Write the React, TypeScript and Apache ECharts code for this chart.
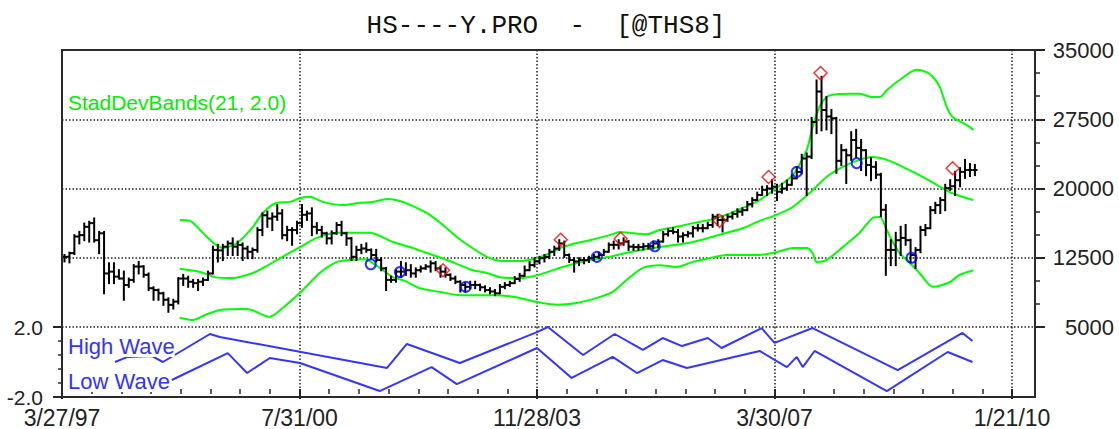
import React, { useEffect, useRef } from 'react';
import * as echarts from 'echarts';

// ---------- data ----------
const titleText = 'HS----Y.PRO  -  [@THS8]';
const xTickLabels = ['3/27/97', '7/31/00', '11/28/03', '3/30/07', '1/21/10'];
const priceTicks = [5000, 12500, 20000, 27500, 35000];

// [open, high, low, close] per bar
const ohlc: number[][] = [
  [12600, 12800, 12100, 12600], [12600, 13050, 12000, 13000], [13000, 14950, 12900, 14800], [14800, 15300, 14050, 14950],
  [14950, 16200, 14400, 15850], [15850, 16400, 14250, 16250], [16250, 16750, 14250, 14400], [14400, 15300, 13000, 15150],
  [15150, 15300, 8650, 10800], [10800, 11900, 9750, 11000], [11000, 11900, 9750, 10450], [10450, 11150, 10250, 10250],
  [10250, 11000, 7950, 9550], [9550, 10250, 9350, 10100], [10100, 11700, 9900, 11550], [11550, 12050, 10800, 11550],
  [11550, 11600, 10450, 10650], [10650, 10800, 9000, 9200], [9200, 9300, 7950, 9000], [9000, 9050, 7950, 8650],
  [8650, 8700, 7400, 7950], [7950, 8100, 6650, 7400], [7400, 7950, 7000, 7750], [7750, 10300, 7550, 10250],
  [10250, 10650, 9550, 10250], [10250, 10450, 9350, 9900], [9900, 10100, 9350, 9750], [9750, 10100, 9000, 9900],
  [9900, 10250, 9550, 10100], [10100, 11000, 10100, 10800], [10800, 13700, 10800, 13350], [13350, 13900, 12100, 13300],
  [13300, 13900, 12250, 13700], [13700, 14250, 12800, 14050], [14050, 14600, 12800, 13700], [13700, 14250, 12800, 13900],
  [13900, 14050, 12250, 13500], [13500, 13700, 12450, 13150], [13150, 13500, 12450, 13350], [13350, 15700, 13150, 15500],
  [15500, 17300, 14950, 17100], [17100, 17500, 15850, 16750], [16750, 17300, 15500, 16950], [16950, 18200, 16600, 17300],
  [17300, 17650, 14600, 14950], [14950, 15850, 14400, 15500], [15500, 15700, 13900, 15500], [15500, 16400, 15150, 16250],
  [16250, 18200, 15850, 17150], [17150, 17500, 16600, 17300], [17300, 17850, 14950, 15850], [15850, 16250, 15150, 15500],
  [15500, 15850, 14800, 15150], [15150, 15200, 14050, 14600], [14600, 15350, 14050, 15150], [15150, 16250, 15100, 16050],
  [16050, 16400, 14950, 15150], [15150, 15200, 13900, 14600], [14600, 14650, 12250, 12600], [12600, 13700, 12250, 13350],
  [13350, 13900, 13000, 13500], [13500, 14050, 13150, 13350], [13350, 13400, 12450, 12800], [12800, 13350, 12100, 12250],
  [12250, 12450, 11150, 11350], [11350, 11400, 9000, 10100], [10100, 10450, 9900, 10100], [10100, 11150, 9900, 11000],
  [11000, 12050, 10450, 11000], [11000, 11900, 10650, 11150], [11150, 11700, 10450, 10800], [10800, 11350, 10450, 11150],
  [11150, 11550, 11000, 11350], [11350, 11700, 11300, 11550], [11550, 12100, 11000, 11900], [11900, 12050, 11150, 11350],
  [11350, 11550, 10450, 11000], [11000, 11350, 10450, 10650], [10650, 10700, 10100, 10250], [10250, 10450, 9750, 9900],
  [9900, 9950, 8850, 9550], [9550, 9750, 8850, 9350], [9350, 9900, 9200, 9550], [9550, 9900, 9200, 9550],
  [9550, 9600, 9000, 9300], [9300, 9400, 8850, 9000], [9000, 9200, 8650, 8850], [8850, 9000, 8450, 8650],
  [8650, 9550, 8650, 9350], [9350, 9750, 9200, 9550], [9550, 9900, 9450, 9750], [9750, 10400, 9750, 10200],
  [10200, 10750, 10000, 10550], [10550, 11550, 10550, 11150], [11150, 12050, 11150, 11700], [11700, 12450, 11550, 12100],
  [12100, 12600, 11900, 12450], [12450, 12800, 12100, 12600], [12600, 13350, 12450, 13150], [13150, 13700, 12800, 13500],
  [13500, 14400, 13350, 14050], [14050, 14250, 12600, 12800], [12800, 12850, 12050, 12250], [12250, 12450, 11000, 12100],
  [12100, 12450, 11700, 12250], [12250, 12450, 11900, 12250], [12250, 12600, 12050, 12450], [12450, 12800, 12250, 12600],
  [12600, 13050, 12450, 12800], [12800, 13350, 12800, 13150], [13150, 14050, 13150, 13900], [13900, 14250, 13500, 13900],
  [13900, 14400, 13500, 14050], [14050, 14600, 13900, 14250], [14250, 14300, 13350, 13700], [13700, 13900, 13350, 13650],
  [13650, 13900, 13350, 13650], [13650, 14000, 13400, 13750], [13750, 14000, 13500, 13750], [13750, 14250, 13500, 14050],
  [14050, 14400, 13650, 14250], [14250, 15300, 14250, 15050], [15050, 15600, 14900, 15400], [15400, 15700, 15150, 15300],
  [15300, 15500, 14250, 14800], [14800, 15150, 14250, 14950], [14950, 15300, 14800, 15150], [15150, 15850, 14800, 15700],
  [15700, 16050, 15450, 15700], [15700, 16050, 15350, 15700], [15700, 16300, 15700, 16050], [16050, 17150, 15850, 16950],
  [16950, 17150, 16050, 16600], [16600, 16950, 15350, 16600], [16600, 17150, 16500, 16950], [16950, 17400, 16750, 17250],
  [17250, 17750, 16950, 17500], [17500, 17850, 17150, 17650], [17650, 18550, 17650, 18300], [18300, 18950, 18050, 18750],
  [18750, 19550, 18750, 19300], [19300, 20200, 19300, 19850], [19850, 20250, 19300, 20000], [20000, 20900, 19550, 20200],
  [20200, 20400, 18750, 19650], [19650, 20500, 19550, 20000], [20000, 20850, 19850, 20400], [20400, 21450, 20400, 21100],
  [21100, 22300, 21100, 21800], [21800, 23650, 21650, 23250], [23250, 23800, 19300, 23450], [23450, 27650, 23300, 27200],
  [27200, 31700, 26000, 30500], [30500, 32100, 26300, 28500], [28500, 29900, 26400, 27800], [27800, 28500, 26000, 27600],
  [27600, 27650, 21700, 23000], [23000, 24700, 22550, 24150], [24150, 24200, 20600, 23600], [23600, 26100, 23100, 25250],
  [25250, 26350, 23400, 24400], [24400, 25250, 22000, 24150], [24150, 24150, 21450, 22550], [22550, 23300, 20900, 22350],
  [22350, 22850, 21150, 21500], [21500, 21600, 17000, 17700], [17700, 18200, 10650, 13350], [13350, 14400, 11700, 13350],
  [13350, 15200, 11700, 14400], [14400, 15850, 12800, 14650], [14650, 16050, 13900, 14400], [14400, 14450, 12050, 12800],
  [12800, 13550, 11400, 13350], [13350, 15850, 13100, 15500], [15500, 16050, 14950, 15700], [15700, 18000, 15700, 17650],
  [17650, 18450, 17350, 18200], [18200, 18950, 17350, 18750], [18750, 20400, 17650, 20050], [20050, 20900, 19850, 20250],
  [20250, 21800, 19300, 20900], [20900, 22200, 20250, 21800], [21800, 23100, 21150, 22000], [22000, 22650, 21350, 22000],
  [22000, 22550, 21450, 22000],
];

// StdDev bands: [bar position, value]
const upperBand: number[][] = [
  [23.8, 16600], [25.9, 16500], [28.9, 14950], [30.9, 14000], [32.5, 13550], [35.4, 14100], [38.6, 15850], [40.6, 17350],
  [43.4, 18450], [46.1, 18550], [48.1, 18950], [50.1, 19100], [52.7, 18550], [56.8, 18200], [60.2, 18450], [62.8, 18550],
  [65.7, 18850], [68.3, 18650], [70.9, 18100], [73.7, 17350], [77.0, 16050], [79.8, 14750], [82.4, 13750], [85.9, 12600],
  [89.1, 12150], [92.5, 12150], [96.0, 12450], [98.6, 13000], [101.2, 13650], [104.0, 14100], [106.7, 14400], [110.7, 14950],
  [112.7, 15300], [114.7, 15200], [118.2, 15050], [120.8, 15500], [124.2, 15850], [127.5, 16250], [130.9, 16600], [134.3, 17150],
  [137.6, 17900], [141.0, 18750], [144.4, 20050], [147.7, 21450], [150.5, 24150], [151.7, 26650], [153.1, 28850], [154.5, 29900],
  [155.8, 30150], [159.2, 30250], [161.2, 30250], [163.8, 29900], [165.3, 29900], [166.7, 30650], [169.3, 31750], [172.7, 32850],
  [174.7, 32600], [176.0, 32100], [177.4, 31000], [178.8, 28850], [180.0, 27750], [182.8, 26900], [184.2, 26350],
];
const middleBand: number[][] = [
  [23.8, 11300], [27.9, 10950], [30.9, 10400], [34.5, 10300], [38.6, 10850], [41.0, 11500], [43.4, 12250], [48.1, 13650],
  [51.5, 14650], [55.6, 15200], [62.2, 15200], [66.9, 14200], [70.9, 13550], [74.9, 12800], [77.8, 12250], [80.4, 11700],
  [83.0, 11150], [85.9, 10850], [88.5, 10400], [92.5, 10300], [96.0, 10600], [101.2, 11500], [106.7, 12250], [110.7, 12600],
  [114.7, 13100], [120.8, 13650], [127.5, 14200], [134.3, 15200], [137.6, 15700], [141.0, 16500], [144.4, 17150], [147.7, 18000],
  [151.1, 19500], [154.5, 21250], [157.8, 22350], [161.2, 23100], [163.8, 23400], [166.7, 23100], [169.9, 22350], [173.3, 21450],
  [176.8, 20400], [179.4, 19600], [182.0, 19100], [184.2, 18750],
];
const lowerBand: number[][] = [
  [23.8, 6000], [26.5, 5750], [28.9, 6300], [31.9, 6850], [37.4, 6950], [42.0, 6100], [44.6, 7050], [48.1, 8700],
  [52.1, 10850], [55.6, 12050], [58.2, 12250], [61.2, 12350], [64.2, 11400], [66.9, 10400], [69.3, 10000], [72.3, 9200],
  [76.4, 8800], [80.4, 8450], [87.1, 8450], [91.5, 8250], [96.0, 7700], [100.0, 7400], [104.0, 7600], [108.1, 8150],
  [111.3, 8800], [114.1, 10100], [117.4, 11400], [120.8, 11700], [124.2, 11500], [127.5, 12050], [130.9, 12450], [134.3, 12800],
  [141.0, 12800], [144.4, 13100], [147.7, 13550], [150.5, 13550], [151.7, 13000], [152.5, 12050], [154.5, 12250], [157.8, 13650],
  [161.2, 15200], [163.8, 16800], [165.3, 16900], [166.7, 15500], [167.9, 14200], [169.3, 13000], [171.3, 11950], [173.3, 10850],
  [176.0, 9350], [179.4, 9850], [181.4, 10650], [184.2, 11150],
];

// wave markers: [bar position, price]
const peakMarks: number[][] = [
  [77.0, 11150], [100.8, 14450], [112.9, 14550], [132.9, 16500], [142.8, 21250], [153.3, 32500], [180.0, 22200],
];
const troughMarks: number[][] = [
  [62.4, 11800], [68.3, 10950], [81.6, 9350], [108.1, 12600], [119.8, 13750], [148.5, 21800], [160.6, 22750], [171.7, 12500],
];

// oscillator panel: [bar position, value]
const highWave: number[][] = [
  [10.7, 0.0], [13.3, 0.29], [18.2, 0.34], [20.4, 0.0], [29.9, 1.6], [31.9, 1.43], [65.7, -0.34], [69.7, 1.03],
  [80.4, -0.06], [96.0, 1.71], [98.2, 2.0], [105.3, 0.4], [111.7, 1.6], [117.4, 0.69], [121.4, 1.37], [125.3, 0.91],
  [130.5, 1.37], [133.3, 0.8], [141.4, 1.94], [144.0, 1.09], [151.7, 1.94], [168.9, -0.46], [182.0, 1.66], [184.0, 1.2],
];
const lowWave: number[][] = [
  [22.2, -1.03], [33.5, 0.51], [37.4, -0.63], [42.0, 0.23], [48.1, -0.06], [64.2, -1.66], [74.7, -0.29], [79.8, -1.26],
  [96.0, 0.8], [103.0, -0.91], [111.3, 0.29], [116.2, -0.63], [121.4, 0.11], [126.3, -0.34], [141.0, 0.63], [146.5, -0.29],
  [148.5, 0.29], [149.7, -0.29], [152.1, 0.63], [166.7, -1.66], [179.0, 0.57], [184.0, 0.0],
];

// ---------- layout ----------
const PLOT_LEFT = 62;
const PLOT_TOP = 50;
const PLOT_W = 973;
const PRICE_H = 277;
const OSC_H = 70;
const UNIT = 4.948; // px per bar
const X_MAX = PLOT_W / UNIT;
const LABEL_STEP = 48;

const SANS = '"Liberation Sans", Arial, sans-serif';
const dotted = { color: '#222', width: 1.5, type: [1.5, 2] as number[] };
const axisInk = '#262626';

export default function App() {
  const ref = useRef<HTMLDivElement>(null);

  useEffect(() => {
    if (!ref.current) return;
    const chart = echarts.init(ref.current, undefined, { renderer: 'svg' });

    const barData = ohlc.map((b, i) => [i + 0.5, b[0], b[1], b[2], b[3]]);

    const hiddenX = (gridIndex: number) => ({
      gridIndex,
      type: 'value',
      min: 0,
      max: X_MAX,
      interval: LABEL_STEP,
      axisLine: { show: false, onZero: false },
      axisTick: { show: false },
      minorTick: { show: false },
      axisLabel: { show: false },
      splitLine: { show: true, lineStyle: dotted },
    });

    const bandSeries = (name: string, data: number[][]) => ({
      name,
      type: 'line',
      xAxisIndex: 0,
      yAxisIndex: 0,
      data,
      smooth: 0.25,
      showSymbol: false,
      symbol: 'none',
      lineStyle: { color: '#00ff00', width: 2 },
      z: 2,
    });

    const option: any = {
      animation: false,
      backgroundColor: '#ffffff',
      grid: [
        { left: PLOT_LEFT, top: PLOT_TOP, width: PLOT_W, height: PRICE_H },
        { left: PLOT_LEFT, top: PLOT_TOP + PRICE_H, width: PLOT_W, height: OSC_H },
        { left: PLOT_LEFT, top: PLOT_TOP + PRICE_H, width: UNIT * 192, height: OSC_H },
      ],
      xAxis: [
        hiddenX(0),
        hiddenX(1),
        {
          gridIndex: 2,
          type: 'value',
          position: 'bottom',
          min: 0,
          max: 192,
          interval: LABEL_STEP,
          axisLine: { show: false, onZero: false },
          axisTick: { show: true, length: 10, lineStyle: { color: axisInk, width: 2 } },
          minorTick: { show: true, splitNumber: 8, length: 5, lineStyle: { color: axisInk, width: 1.5 } },
          splitLine: { show: false },
          axisLabel: {
            margin: 17,
            fontSize: 23,
            fontFamily: SANS,
            color: '#222',
            formatter: (v: number) => {
              const k = Math.round(v / LABEL_STEP);
              return Math.abs(v - k * LABEL_STEP) < 1e-6 && xTickLabels[k] ? xTickLabels[k] : '';
            },
          },
        },
      ],
      yAxis: [
        {
          gridIndex: 0,
          type: 'value',
          position: 'right',
          min: priceTicks[0],
          max: priceTicks[priceTicks.length - 1],
          interval: priceTicks[1] - priceTicks[0],
          axisLine: { show: true, onZero: false, lineStyle: { color: axisInk, width: 2 } },
          axisTick: { show: true, length: 10, lineStyle: { color: axisInk, width: 2 } },
          minorTick: { show: true, splitNumber: 3, length: 5, lineStyle: { color: axisInk, width: 1.5 } },
          splitLine: { show: true, lineStyle: dotted },
          axisLabel: {
            align: 'right',
            margin: 79,
            fontSize: 22,
            fontFamily: SANS,
            color: '#222',
            formatter: (v: number) => String(v),
          },
        },
        {
          gridIndex: 1,
          type: 'value',
          position: 'left',
          min: -2,
          max: 2,
          interval: 4,
          axisLine: { show: false, onZero: false },
          axisTick: { show: true, length: 9, lineStyle: { color: axisInk, width: 2 } },
          minorTick: { show: true, splitNumber: 5, length: 4, lineStyle: { color: axisInk, width: 1.5 } },
          splitLine: { show: false },
          axisLabel: {
            margin: 19,
            fontSize: 21,
            fontFamily: SANS,
            color: '#222',
            formatter: (v: number) => v.toFixed(1),
          },
        },
        {
          gridIndex: 2,
          type: 'value',
          min: -2,
          max: 2,
          show: false,
          axisLine: { show: false, onZero: false },
          axisTick: { show: false },
          minorTick: { show: false },
          splitLine: { show: false },
          axisLabel: { show: false },
        },
      ],
      series: [
        bandSeries('upper', upperBand),
        bandSeries('middle', middleBand),
        bandSeries('lower', lowerBand),
        {
          name: 'price',
          type: 'custom',
          xAxisIndex: 0,
          yAxisIndex: 0,
          data: barData,
          encode: { x: 0, y: [1, 2, 3, 4] },
          z: 3,
          renderItem: (_params: any, api: any) => {
            const x = api.value(0);
            const pO = api.coord([x, api.value(1)]);
            const pH = api.coord([x, api.value(2)]);
            const pL = api.coord([x, api.value(3)]);
            const pC = api.coord([x, api.value(4)]);
            const st = { stroke: '#000', lineWidth: 2 };
            return {
              type: 'group',
              children: [
                { type: 'line', shape: { x1: pH[0], y1: pH[1] - 1, x2: pL[0], y2: pL[1] + 1 }, style: st },
                { type: 'line', shape: { x1: pO[0] - 2.6, y1: pO[1], x2: pO[0], y2: pO[1] }, style: st },
                { type: 'line', shape: { x1: pC[0], y1: pC[1], x2: pC[0] + 2.6, y2: pC[1] }, style: st },
              ],
            };
          },
        },
        {
          name: 'troughs',
          type: 'scatter',
          xAxisIndex: 0,
          yAxisIndex: 0,
          data: troughMarks,
          symbol: 'circle',
          symbolSize: 10,
          itemStyle: { color: 'rgba(255,255,255,0)', borderColor: '#0000ff', borderWidth: 2 },
          z: 4,
        },
        {
          name: 'peaks',
          type: 'scatter',
          xAxisIndex: 0,
          yAxisIndex: 0,
          data: peakMarks,
          symbol: 'diamond',
          symbolSize: [13, 13],
          itemStyle: { color: 'rgba(255,255,255,0)', borderColor: '#ff0000', borderWidth: 1.5 },
          z: 4,
        },
        {
          name: 'High Wave',
          type: 'line',
          xAxisIndex: 1,
          yAxisIndex: 1,
          data: highWave,
          showSymbol: false,
          symbol: 'none',
          lineStyle: { color: '#3535ff', width: 2 },
          z: 2,
        },
        {
          name: 'Low Wave',
          type: 'line',
          xAxisIndex: 1,
          yAxisIndex: 1,
          data: lowWave,
          showSymbol: false,
          symbol: 'none',
          lineStyle: { color: '#3535ff', width: 2 },
          z: 2,
        },
      ],
      graphic: [
        {
          type: 'rect',
          z: 100,
          silent: true,
          shape: { x: PLOT_LEFT, y: PLOT_TOP, width: PLOT_W, height: PRICE_H + OSC_H },
          style: { fill: 'none', stroke: '#2a2a2a', lineWidth: 2 },
        },
        {
          type: 'text',
          z: 100,
          x: 546,
          y: 26,
          style: {
            text: titleText,
            fontFamily: '"Liberation Mono", "DejaVu Sans Mono", monospace',
            fontSize: 26,
            fill: '#111',
            align: 'center',
            verticalAlign: 'middle',
            textAlign: 'center',
            textVerticalAlign: 'middle',
          },
        },
        {
          type: 'text',
          z: 100,
          x: 68,
          y: 102,
          style: {
            text: 'StadDevBands(21, 2.0)',
            fontFamily: SANS,
            fontSize: 21,
            fill: '#00ee00',
            align: 'left',
            verticalAlign: 'middle',
            textAlign: 'left',
            textVerticalAlign: 'middle',
          },
        },
        {
          type: 'text',
          z: 100,
          x: 68,
          y: 346,
          style: {
            text: 'High Wave',
            fontFamily: SANS,
            fontSize: 22,
            fill: '#3333ff',
            backgroundColor: '#ffffff',
            align: 'left',
            verticalAlign: 'middle',
            textAlign: 'left',
            textVerticalAlign: 'middle',
          },
        },
        {
          type: 'text',
          z: 100,
          x: 68,
          y: 381,
          style: {
            text: 'Low Wave',
            fontFamily: SANS,
            fontSize: 22,
            fill: '#3333ff',
            backgroundColor: '#ffffff',
            align: 'left',
            verticalAlign: 'middle',
            textAlign: 'left',
            textVerticalAlign: 'middle',
          },
        },
      ],
    };

    chart.setOption(option);
    return () => chart.dispose();
  }, []);

  return (
    <div
      ref={ref}
      style={{ position: 'fixed', left: 0, top: 0, width: 1119, height: 429, background: '#fff' }}
    />
  );
}
